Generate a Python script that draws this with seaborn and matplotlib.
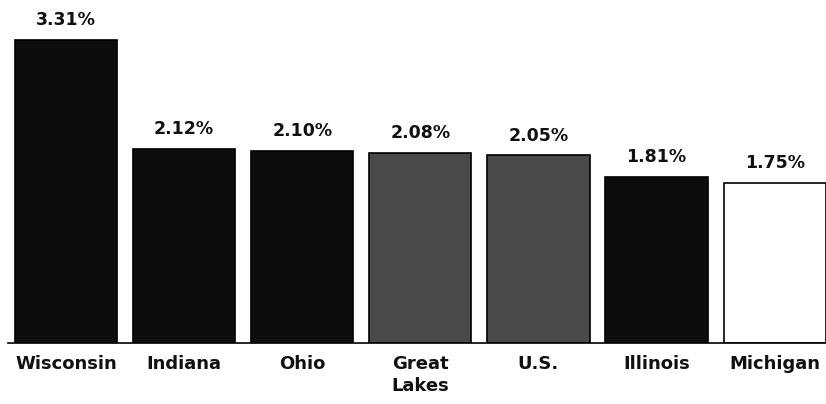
import pandas as pd
import matplotlib.pyplot as plt
import seaborn as sns

categories = ['Wisconsin', 'Indiana', 'Ohio', 'Great\nLakes', 'U.S.', 'Illinois', 'Michigan']
values = [3.31, 2.12, 2.10, 2.08, 2.05, 1.81, 1.75]
bar_colors = ['#0d0d0d', '#0d0d0d', '#0d0d0d', '#4a4a4a', '#4a4a4a', '#0d0d0d', '#ffffff']

df = pd.DataFrame({'region': categories, 'pct': values})

sns.set_style('white')
plt.rcParams['font.family'] = ['DejaVu Sans']

fig = plt.figure(figsize=(8.26, 4.04), dpi=100)
ax = fig.add_axes([0.0, 0.151, 1.0, 0.849])

sns.barplot(data=df, x='region', y='pct', hue='region', palette=dict(zip(categories, bar_colors)),
            legend=False, width=0.865, edgecolor='black', linewidth=1.2, ax=ax)

for i, v in enumerate(values):
    ax.text(i, v + 0.12, f'{v:.2f}%', ha='center', va='bottom', fontsize=12.5, fontweight='bold', color='#111111')

ax.set_xlim(-0.559, 6.435)
ax.set_ylim(0, 3.75)
ax.set_xlabel('')
ax.set_ylabel('')
ax.set_yticks([])
ax.tick_params(axis='x', length=0, pad=9)
for lbl in ax.get_xticklabels():
    lbl.set_fontsize(13)
    lbl.set_fontweight('bold')
    lbl.set_color('#111111')
    lbl.set_linespacing(1.25)
sns.despine(ax=ax, left=True)
ax.spines['bottom'].set_color('black')
ax.spines['bottom'].set_linewidth(1.2)
ax.spines['bottom'].set_bounds(-0.49, 6.435)

fig.savefig('out.png', dpi=100)
